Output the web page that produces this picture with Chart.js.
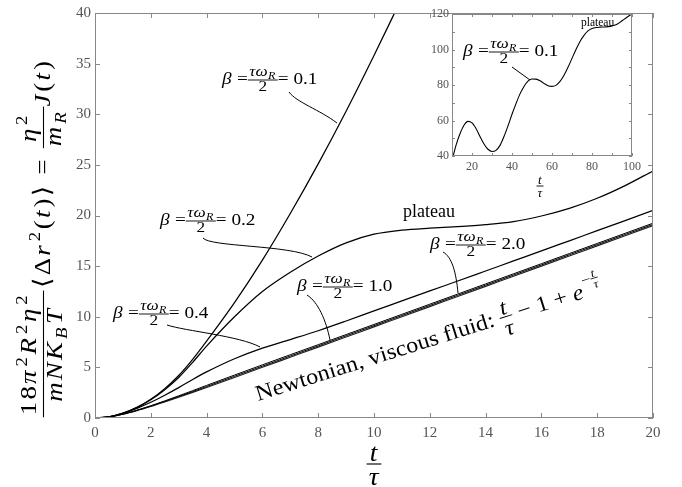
<!DOCTYPE html>
<html><head><meta charset="utf-8">
<script src="https://cdn.jsdelivr.net/npm/chart.js@4.4.0/dist/chart.umd.min.js"></script>
<style>
html,body{margin:0;padding:0;background:#fff;}
#wrap{position:relative;width:682px;height:487px;overflow:hidden;}
#main{position:absolute;left:0;top:0;}
#inset{position:absolute;left:400px;top:0;}
</style></head><body>
<div id="wrap"><canvas id="main" width="682" height="487"></canvas><canvas id="inset" width="282" height="220"></canvas></div>
<script>
// ---------- data ----------
const tMain  = [0,0.5,1,1.5,2,2.5,3,3.5,4,5,6,7,8,9,10,11,12,13,14,15,16,17,18,19,20];
const beta01 = [0,0.12,0.48,1.05,1.85,2.9,4.2,5.8,7.6,11.4,15.6,20.2,25.1,30.3,35.8,41.5,null,null,null,null,null,null,null,null,null];
const beta02 = [0,0.12,0.47,1.02,1.8,2.8,4.0,5.5,7.1,10.0,12.5,14.4,16.0,17.3,18.15,18.55,18.75,18.9,19.1,19.4,19.95,20.7,21.7,22.95,24.4];
const beta04 = [0,0.11,0.45,0.95,1.55,2.25,3.0,3.8,4.55,5.85,6.9,7.75,8.62,9.58,10.58,11.56,12.55,13.53,14.52,15.51,16.5,17.5,18.5,19.5,20.5];
const beta10 = [0,0.11,0.39,0.77,1.21,1.69,2.19,2.7,3.22,4.24,5.25,6.25,7.24,8.24,9.24,10.24,11.24,12.24,13.24,14.24,15.24,16.24,17.24,18.24,19.24];
const beta20 = [0,0.11,0.38,0.75,1.18,1.64,2.12,2.61,3.11,4.12,5.12,6.12,7.12,8.12,9.12,10.12,11.12,12.12,13.12,14.12,15.12,16.12,17.12,18.12,19.12];
const newton = [0,0.107,0.368,0.723,1.135,1.582,2.05,2.53,3.018,4.007,5.002,6.001,7.0,8.0,9.0,10,11,12,13,14,15,16,17,18,19];
const xTicksMain = [0,2,4,6,8,10,12,14,16,18,20];
const yTicksMain = [0,5,10,15,20,25,30,35,40];

const tInset  = [10,12,14,16,18,20,22,24,26,28,30,32,34,36,38,40,42,44,46,48,50,52,54,56,58,60,62,64,66,68,70,72,74,76,78,80,82,84,86,88,90,92,94,96,98,100];
const inset01 = [37.5,46,52.5,57.3,59.5,58.7,55.5,51,46.8,43.8,42.5,43.2,46,51,57,63.5,69.5,75,79.2,82.2,83.4,83.3,82.4,80.9,79.6,79.2,79.8,82,85.5,90,95,100,104.5,108,110.5,111.8,112.4,112.6,112.7,112.9,113.3,114,115.3,117,118.6,120];

// ---------- math text helper ----------
const SERIF = '"Liberation Serif","DejaVu Serif","Times New Roman",serif';
function fnt(fs, it){ return (it?'italic ':'') + fs.toFixed(2) + 'px ' + SERIF; }
function mlay(ctx, items, fs, draw, x, y){
  let w = 0;
  for (const it of items){
    if (it.r !== undefined || it.i !== undefined){
      const s = it.r !== undefined ? it.r : it.i;
      ctx.font = fnt(fs, it.i !== undefined);
      const tw = ctx.measureText(s).width;
      if (draw) ctx.fillText(s, x + w, y);
      w += tw + (it.i !== undefined ? fs*0.03 : 0);
    } else if (it.sup){
      w += mlay(ctx, it.sup, fs*0.7, draw, x + w + fs*0.03, y - fs*(it.raise||0.4)) + fs*0.05;
    } else if (it.sub){
      w += mlay(ctx, it.sub, fs*0.7, draw, x + w, y + fs*0.2) + fs*0.03;
    } else if (it.frac){
      const f2 = fs*(it.s||1);
      const nw = mlay(ctx, it.frac[0], f2, false);
      const dw = mlay(ctx, it.frac[1], f2, false);
      const fw = Math.max(nw, dw) + fs*0.15;
      if (draw){
        const axis = y - fs*0.27;
        const lw = Math.max(0.9, fs*0.045);
        ctx.fillRect(x + w, axis - lw/2, fw, lw);
        mlay(ctx, it.frac[0], f2, true, x + w + (fw-nw)/2, axis - f2*(it.ng||0.28));
        mlay(ctx, it.frac[1], f2, true, x + w + (fw-dw)/2, axis + f2*(it.dg||0.78));
      }
      w += fw;
    } else if (it.sp){ w += it.sp*fs; }
  }
  return w;
}
// draws items with horizontal stretch sx; x = left (or centre), axisY = math axis
function drawMath(ctx, items, fs, x, axisY, align, sx, ls){
  sx = sx || 1;
  ctx.save();
  if (ls) ctx.letterSpacing = ls + 'px';
  const w = mlay(ctx, items, fs, false);
  ctx.fillStyle = '#000'; ctx.textBaseline = 'alphabetic'; ctx.textAlign = 'left';
  ctx.translate(x, axisY); ctx.scale(sx, 1);
  mlay(ctx, items, fs, true, align === 'center' ? -w/2 : 0, fs*0.27);
  ctx.restore();
  return w*sx;
}
const tau = [{i:'t'}], tauD = [{i:'τ'}];
function betaLabel(v){ return [{i:'β'},{r:' ='},{frac:[[{i:'τω'},{sub:[{i:'R'}]}],[{r:'2'}]], s:0.9},{r:'= '+v}]; }
function leader(ctx, p){
  ctx.save(); ctx.strokeStyle='#000'; ctx.lineWidth=1;
  ctx.beginPath(); ctx.moveTo(p[0],p[1]); ctx.bezierCurveTo(p[2],p[3],p[4],p[5],p[6],p[7]); ctx.stroke(); ctx.restore();
}

// ---------- box with inward ticks ----------
function boxTicks(len, color){
  return { id:'boxTicks', afterDatasetsDraw(chart){
    const {ctx, chartArea:a, scales} = chart;
    ctx.save(); ctx.strokeStyle = color; ctx.lineWidth = 1;
    ctx.strokeRect(a.left+0.5, a.top+0.5, a.right-a.left-1, a.bottom-a.top-1);
    ctx.beginPath();
    for (const t of scales.x.ticks){
      const p = Math.round(scales.x.getPixelForValue(t.value))+0.5;
      ctx.moveTo(p, a.bottom); ctx.lineTo(p, a.bottom-len);
      ctx.moveTo(p, a.top); ctx.lineTo(p, a.top+len);
    }
    for (const t of scales.y.ticks){
      const p = Math.round(scales.y.getPixelForValue(t.value))+0.5;
      ctx.moveTo(a.left, p); ctx.lineTo(a.left+len, p);
      ctx.moveTo(a.right, p); ctx.lineTo(a.right-len, p);
    }
    ctx.stroke(); ctx.restore();
  }};
}
function ds(arr, xs){ return xs.map((t,i)=>({x:t, y:arr[i]})); }
function line(data, extra){ return Object.assign({data, borderColor:'#000', borderWidth:1.25, pointRadius:0, fill:false, cubicInterpolationMode:'monotone', spanGaps:false}, extra||{}); }

// ---------- main chart ----------
const mainAnn = { id:'mainAnn', afterDraw(chart){
  const ctx = chart.ctx; ctx.save();
  // y title
  const yt = [{frac:[[{r:'18'},{i:'π'},{sup:[{r:'2'}]},{i:'R'},{sup:[{r:'2'}]},{i:'η'},{sup:[{r:'2'}]}],
                     [{i:'mNK'},{sub:[{i:'B'}]},{i:'T'}]], ng:0.3, dg:0.78},
              {sp:0.1},{r:'⟨Δ'},{i:'r'},{sup:[{r:'2'}]},{r:'('},{i:'t'},{r:')⟩ = '},
              {frac:[[{i:'η'},{sup:[{r:'2'}]}],[{i:'m'},{sub:[{i:'R'}]}]], ng:0.3, dg:0.72},
              {i:'J'},{r:'('},{i:'t'},{r:')'}];
  ctx.save(); ctx.translate(43.5, 238); ctx.rotate(-Math.PI/2);
  drawMath(ctx, yt, 24, 0, 0, 'center', 1.12, 2); ctx.restore();
  // x title
  drawMath(ctx, [{frac:[tau, tauD], ng:0.12, dg:0.85}], 25, 374, 464, 'center', 1.1);
  // labels
  const fs = 16, sx = 1.2;
  drawMath(ctx, betaLabel('0.1'), fs, 222, 80, 'left', sx);
  leader(ctx, [289,92, 296,102, 320,110, 337,123]);
  drawMath(ctx, betaLabel('0.2'), fs, 160, 221, 'left', sx);
  leader(ctx, [203,238, 210,247, 290,245, 312,257]);
  drawMath(ctx, betaLabel('0.4'), fs, 113, 314, 'left', sx);
  leader(ctx, [167,325, 185,331, 240,336, 260,347]);
  drawMath(ctx, betaLabel('1.0'), fs, 297, 287, 'left', sx);
  leader(ctx, [307,295, 318,302, 326,320, 330,340]);
  drawMath(ctx, betaLabel('2.0'), fs, 430, 245, 'left', sx);
  leader(ctx, [443,252, 452,257, 456,272, 458,293]);
  ctx.fillStyle='#000'; ctx.font = fnt(18,false); ctx.textAlign='left'; ctx.textBaseline='alphabetic';
  ctx.fillText('plateau', 403, 217);
  // Newtonian label
  ctx.save(); ctx.translate(258, 401); ctx.rotate(-17.5*Math.PI/180); ctx.scale(1.1,1);
  const nt = [{r:'Newtonian, viscous fluid: '},{frac:[tau,tauD], ng:0.12, dg:0.85},{r:' − 1 + '},{i:'e'},
              {sup:[{r:'−'},{frac:[tau,tauD], s:0.75, ng:0.12, dg:0.85}], raise:0.55}];
  ctx.fillStyle='#000'; mlay(ctx, nt, 22, true, 0, 0);
  ctx.restore();
  ctx.restore();
}};

new Chart(document.getElementById('main'), {
  type:'line',
  data:{ datasets:[
    line(ds(beta01,tMain)), line(ds(beta02,tMain)), line(ds(beta04,tMain)),
    line(ds(beta10,tMain),{borderWidth:1}), line(ds(beta20,tMain),{borderWidth:1}),
    line(ds(newton,tMain),{borderWidth:1.1, borderColor:'#222'})
  ]},
  options:{
    responsive:false, animation:false, events:[],
    layout:{padding:{top:6,right:29,left:0,bottom:0}},
    plugins:{legend:{display:false}, tooltip:{enabled:false}},
    scales:{
      x:{type:'linear', min:0, max:20, afterFit(s){ s.height = 69; },
         afterBuildTicks(s){ s.ticks = xTicksMain.map(v=>({value:v})); },
         grid:{display:false, drawTicks:false}, border:{display:false},
         ticks:{padding:6, color:'#555', font:{family:SERIF, size:15}, maxRotation:0, autoSkip:false}},
      y:{type:'linear', min:0, max:40, afterFit(s){ s.width = 95; },
         afterBuildTicks(s){ s.ticks = yTicksMain.map(v=>({value:v})); },
         grid:{display:false, drawTicks:false}, border:{display:false},
         ticks:{padding:4, color:'#555', font:{family:SERIF, size:15}, autoSkip:false}}
    }
  },
  plugins:[boxTicks(5,'#888'), mainAnn]
});

// ---------- inset chart ----------
const insetBg = { id:'insetBg', beforeDraw(chart){
  const {ctx, chartArea:a} = chart; ctx.save(); ctx.fillStyle='#fff';
  ctx.fillRect(a.left, a.top, a.right-a.left, a.bottom-a.top); ctx.restore(); }};
const insetAnn = { id:'insetAnn', afterDraw(chart){
  const ctx = chart.ctx; ctx.save();
  drawMath(ctx, betaLabel('0.1'), 16, 63, 52, 'left', 1.2);
  leader(ctx, [112,67, 118,71, 124,76, 130,80]);
  ctx.fillStyle='#000'; ctx.font = fnt(11.5,false); ctx.textAlign='left'; ctx.textBaseline='alphabetic';
  ctx.fillText('plateau', 181, 26);
  drawMath(ctx, [{frac:[tau,tauD], ng:0.12, dg:0.85}], 13, 140, 186, 'center');
  ctx.restore();
}};
new Chart(document.getElementById('inset'), {
  type:'line',
  data:{ datasets:[ line(ds(inset01,tInset),{borderWidth:1.1}) ]},
  options:{
    responsive:false, animation:false, events:[],
    layout:{padding:{top:14,right:50,left:0,bottom:0}},
    plugins:{legend:{display:false}, tooltip:{enabled:false}},
    scales:{
      x:{type:'linear', min:10, max:100, afterFit(s){ s.height = 64; },
         grid:{display:false, drawTicks:false}, border:{display:false},
         ticks:{stepSize:10, padding:4, color:'#555', font:{family:SERIF, size:12}, maxRotation:0, autoSkip:false,
                callback:v => (v % 20 === 0 ? String(v) : '')}},
      y:{type:'linear', min:40, max:120, afterFit(s){ s.width = 52; },
         grid:{display:false, drawTicks:false}, border:{display:false},
         ticks:{stepSize:10, padding:3, color:'#555', font:{family:SERIF, size:12}, autoSkip:false,
                callback:v => (v % 20 === 0 ? String(v) : '')}}
    }
  },
  plugins:[insetBg, boxTicks(3,'#888'), insetAnn]
});
</script>
</body></html>
